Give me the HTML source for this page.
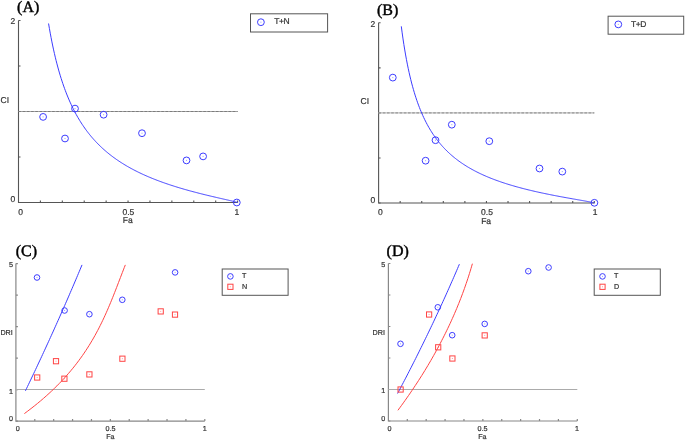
<!DOCTYPE html>
<html><head><meta charset="utf-8"><style>
html,body{margin:0;padding:0;background:#fff;width:685px;height:440px;overflow:hidden;-webkit-font-smoothing:antialiased}
svg{display:block}
#w{width:685px;height:440px}
svg{will-change:transform}
</style></head><body>
<div id="w"><svg width="685" height="440" viewBox="0 0 685 440">
<rect width="685" height="440" fill="#fff"/>
<path d="M18.5,20.5 V202.5 H237.6" fill="none" stroke="#555" stroke-width="1.1"/>
<path d="M18.5,20.50 h2 M18.5,66.00 h2 M18.5,111.50 h2 M18.5,157.00 h2 M18.5,202.50 h2 M40.41,202.5 v-2 M62.32,202.5 v-2 M84.23,202.5 v-2 M106.14,202.5 v-2 M128.05,202.5 v-2 M149.96,202.5 v-2 M171.87,202.5 v-2 M193.78,202.5 v-2 M215.69,202.5 v-2 M237.60,202.5 v-2 " fill="none" stroke="#555" stroke-width="1.1"/>
<line x1="18.5" y1="111.5" x2="237.6" y2="111.5" stroke="#a4a4a4" stroke-width="1.0"/>
<line x1="18.5" y1="111.5" x2="237.6" y2="111.5" stroke="#7c7c7c" stroke-width="1.0" stroke-dasharray="2.6,1.6"/>
<polyline points="48.56,23.51 49.40,28.46 50.24,33.16 51.08,37.64 51.92,41.91 52.76,45.99 53.60,49.88 54.44,53.61 55.28,57.18 56.12,60.60 56.96,63.88 57.80,67.03 58.64,70.06 59.48,72.98 60.32,75.79 61.16,78.49 62.00,81.10 62.84,83.61 63.68,86.05 64.52,88.39 65.36,90.66 66.20,92.86 67.04,94.99 67.88,97.05 68.72,99.05 69.56,100.98 70.40,102.86 71.24,104.68 72.08,106.46 72.92,108.18 73.76,109.85 74.60,111.48 75.44,113.06 76.28,114.60 77.12,116.10 77.96,117.56 78.80,118.98 79.64,120.37 80.48,121.73 81.32,123.05 82.16,124.34 83.00,125.59 83.84,126.82 84.68,128.02 85.51,129.20 86.35,130.34 87.19,131.46 88.03,132.56 88.87,133.63 89.71,134.68 90.55,135.71 91.39,136.71 92.23,137.70 93.07,138.66 93.91,139.61 94.75,140.53 95.59,141.44 96.43,142.33 97.27,143.20 98.11,144.06 98.95,144.90 99.79,145.72 100.63,146.53 101.47,147.33 102.31,148.11 103.15,148.87 103.99,149.63 104.83,150.37 105.67,151.09 106.51,151.81 107.35,152.51 108.19,153.20 109.03,153.88 109.87,154.55 110.71,155.20 111.55,155.85 112.39,156.49 113.23,157.11 114.07,157.73 114.91,158.33 115.75,158.93 116.59,159.52 117.43,160.10 118.27,160.67 119.11,161.23 119.95,161.79 120.79,162.33 121.63,162.87 122.47,163.40 123.31,163.92 124.15,164.44 124.99,164.95 125.83,165.45 126.67,165.94 127.51,166.43 128.35,166.91 129.19,167.39 130.03,167.85 130.87,168.32 131.71,168.77 132.55,169.22 133.39,169.67 134.23,170.11 135.07,170.54 135.91,170.97 136.75,171.39 137.58,171.81 138.42,172.22 139.26,172.63 140.10,173.03 140.94,173.43 141.78,173.83 142.62,174.22 143.46,174.60 144.30,174.98 145.14,175.36 145.98,175.73 146.82,176.09 147.66,176.46 148.50,176.82 149.34,177.17 150.18,177.52 151.02,177.87 151.86,178.22 152.70,178.56 153.54,178.89 154.38,179.23 155.22,179.56 156.06,179.88 156.90,180.21 157.74,180.53 158.58,180.84 159.42,181.16 160.26,181.47 161.10,181.78 161.94,182.08 162.78,182.38 163.62,182.68 164.46,182.98 165.30,183.27 166.14,183.56 166.98,183.85 167.82,184.14 168.66,184.42 169.50,184.70 170.34,184.98 171.18,185.25 172.02,185.52 172.86,185.79 173.70,186.06 174.54,186.33 175.38,186.59 176.22,186.85 177.06,187.11 177.90,187.37 178.74,187.63 179.58,187.88 180.42,188.13 181.26,188.38 182.10,188.63 182.94,188.87 183.78,189.12 184.62,189.36 185.46,189.60 186.30,189.84 187.14,190.07 187.98,190.31 188.82,190.54 189.65,190.77 190.49,191.00 191.33,191.23 192.17,191.45 193.01,191.68 193.85,191.90 194.69,192.12 195.53,192.34 196.37,192.56 197.21,192.78 198.05,193.00 198.89,193.21 199.73,193.43 200.57,193.64 201.41,193.85 202.25,194.06 203.09,194.27 203.93,194.48 204.77,194.68 205.61,194.89 206.45,195.09 207.29,195.30 208.13,195.50 208.97,195.70 209.81,195.90 210.65,196.10 211.49,196.30 212.33,196.50 213.17,196.69 214.01,196.89 214.85,197.09 215.69,197.28 216.25,197.41 216.81,197.54 217.37,197.67 217.93,197.80 218.49,197.93 219.05,198.06 219.61,198.19 220.17,198.31 220.73,198.44 221.30,198.57 221.86,198.70 222.42,198.82 222.98,198.95 223.54,199.08 224.10,199.21 224.66,199.34 225.22,199.46 225.78,199.59 226.34,199.72 226.90,199.85 227.46,199.97 228.02,200.10 228.58,200.23 229.14,200.36 229.70,200.49 230.26,200.62 230.82,200.75 231.38,200.88 231.94,201.01 232.51,201.15 233.07,201.28 233.63,201.42 234.19,201.55 234.75,201.69 235.31,201.84 235.87,201.98 236.43,202.13 236.99,202.29 237.55,202.48 237.60,202.50" fill="none" stroke="#3c3cff" stroke-width="1"/>
<circle cx="43.1" cy="116.9" r="3.4" fill="none" stroke="#3c3cff" stroke-width="1.0"/>
<rect x="42.6" y="116.4" width="1" height="1" fill="#3c3cff" opacity="0.5"/>
<circle cx="65" cy="138.5" r="3.4" fill="none" stroke="#3c3cff" stroke-width="1.0"/>
<rect x="64.5" y="138.0" width="1" height="1" fill="#3c3cff" opacity="0.5"/>
<circle cx="75" cy="108.6" r="3.4" fill="none" stroke="#3c3cff" stroke-width="1.0"/>
<rect x="74.5" y="108.1" width="1" height="1" fill="#3c3cff" opacity="0.5"/>
<circle cx="103.6" cy="114.7" r="3.4" fill="none" stroke="#3c3cff" stroke-width="1.0"/>
<rect x="103.1" y="114.2" width="1" height="1" fill="#3c3cff" opacity="0.5"/>
<circle cx="142" cy="133.2" r="3.4" fill="none" stroke="#3c3cff" stroke-width="1.0"/>
<rect x="141.5" y="132.7" width="1" height="1" fill="#3c3cff" opacity="0.5"/>
<circle cx="186.5" cy="160.4" r="3.4" fill="none" stroke="#3c3cff" stroke-width="1.0"/>
<rect x="186.0" y="159.9" width="1" height="1" fill="#3c3cff" opacity="0.5"/>
<circle cx="203.1" cy="156.4" r="3.4" fill="none" stroke="#3c3cff" stroke-width="1.0"/>
<rect x="202.6" y="155.9" width="1" height="1" fill="#3c3cff" opacity="0.5"/>
<circle cx="236.8" cy="202.5" r="3.4" fill="none" stroke="#3c3cff" stroke-width="1.0"/>
<rect x="236.3" y="202.0" width="1" height="1" fill="#3c3cff" opacity="0.5"/>
<text x="15.3" y="24.4" font-family="Liberation Sans" font-size="8.5" fill="#333" text-anchor="end" font-weight="normal" text-rendering="geometricPrecision" stroke="#333" stroke-width="0.2">2</text>
<text x="15.3" y="202.3" font-family="Liberation Sans" font-size="8.5" fill="#333" text-anchor="end" font-weight="normal" text-rendering="geometricPrecision" stroke="#333" stroke-width="0.2">0</text>
<text x="0.6" y="102.7" font-family="Liberation Sans" font-size="8.5" fill="#333" text-anchor="start" font-weight="normal" text-rendering="geometricPrecision" stroke="#333" stroke-width="0.2">CI</text>
<text x="20.7" y="214.5" font-family="Liberation Sans" font-size="8.5" fill="#333" text-anchor="middle" font-weight="normal" text-rendering="geometricPrecision" stroke="#333" stroke-width="0.2">0</text>
<text x="128.4" y="214.5" font-family="Liberation Sans" font-size="8.5" fill="#333" text-anchor="middle" font-weight="normal" text-rendering="geometricPrecision" stroke="#333" stroke-width="0.2">0.5</text>
<text x="236.9" y="214.5" font-family="Liberation Sans" font-size="8.5" fill="#333" text-anchor="middle" font-weight="normal" text-rendering="geometricPrecision" stroke="#333" stroke-width="0.2">1</text>
<text x="127.8" y="223.0" font-family="Liberation Sans" font-size="8.5" fill="#333" text-anchor="middle" font-weight="normal" text-rendering="geometricPrecision" stroke="#333" stroke-width="0.2">Fa</text>
<text x="28.2" y="11.5" font-family="Liberation Serif" font-size="16" fill="#000" text-anchor="middle" font-weight="normal" text-rendering="geometricPrecision" stroke="#000" stroke-width="0.45">(A)</text>
<rect x="250.5" y="13.8" width="77.1" height="18.2" fill="none" stroke="#555" stroke-width="1"/>
<circle cx="260.9" cy="22.2" r="3.4" fill="none" stroke="#3c3cff" stroke-width="1.0"/>
<rect x="260.4" y="21.7" width="1" height="1" fill="#3c3cff" opacity="0.5"/>
<text x="274.3" y="24.3" font-family="Liberation Sans" font-size="8.5" fill="#333" text-anchor="start" font-weight="normal" text-rendering="geometricPrecision" stroke="#333" stroke-width="0.2" letter-spacing="-0.45">T+N</text>
<path d="M378.6,22.8 V203.0 H594.3" fill="none" stroke="#555" stroke-width="1.1"/>
<path d="M378.6,22.80 h2 M378.6,67.85 h2 M378.6,112.90 h2 M378.6,157.95 h2 M378.6,203.00 h2 M400.17,203.0 v-2 M421.74,203.0 v-2 M443.31,203.0 v-2 M464.88,203.0 v-2 M486.45,203.0 v-2 M508.02,203.0 v-2 M529.59,203.0 v-2 M551.16,203.0 v-2 M572.73,203.0 v-2 M594.30,203.0 v-2 " fill="none" stroke="#555" stroke-width="1.1"/>
<line x1="378.6" y1="112.9" x2="594.3" y2="112.9" stroke="#c0c0c0" stroke-width="1.1"/>
<line x1="378.6" y1="112.9" x2="594.3" y2="112.9" stroke="#999999" stroke-width="1.1" stroke-dasharray="2.6,1.6"/>
<polyline points="401.31,26.33 402.17,32.86 403.03,38.95 403.89,44.64 404.75,49.97 405.61,54.98 406.47,59.69 407.34,64.14 408.20,68.33 409.06,72.30 409.92,76.06 410.78,79.64 411.64,83.03 412.50,86.26 413.37,89.34 414.23,92.27 415.09,95.08 415.95,97.76 416.81,100.33 417.67,102.79 418.53,105.15 419.40,107.41 420.26,109.59 421.12,111.68 421.98,113.69 422.84,115.63 423.70,117.51 424.56,119.31 425.43,121.05 426.29,122.73 427.15,124.36 428.01,125.93 428.87,127.46 429.73,128.93 430.59,130.36 431.46,131.74 432.32,133.08 433.18,134.39 434.04,135.65 434.90,136.88 435.76,138.07 436.62,139.24 437.49,140.36 438.35,141.46 439.21,142.53 440.07,143.57 440.93,144.59 441.79,145.58 442.65,146.54 443.52,147.48 444.38,148.40 445.24,149.30 446.10,150.17 446.96,151.02 447.82,151.86 448.68,152.67 449.55,153.47 450.41,154.25 451.27,155.01 452.13,155.75 452.99,156.48 453.85,157.20 454.71,157.90 455.58,158.58 456.44,159.25 457.30,159.91 458.16,160.55 459.02,161.19 459.88,161.80 460.74,162.41 461.61,163.01 462.47,163.59 463.33,164.17 464.19,164.73 465.05,165.28 465.91,165.82 466.77,166.36 467.64,166.88 468.50,167.40 469.36,167.90 470.22,168.40 471.08,168.89 471.94,169.37 472.80,169.84 473.67,170.31 474.53,170.76 475.39,171.21 476.25,171.66 477.11,172.09 477.97,172.52 478.83,172.94 479.70,173.36 480.56,173.77 481.42,174.17 482.28,174.57 483.14,174.96 484.00,175.35 484.86,175.73 485.73,176.10 486.59,176.47 487.45,176.84 488.31,177.20 489.17,177.55 490.03,177.90 490.89,178.24 491.76,178.58 492.62,178.92 493.48,179.25 494.34,179.58 495.20,179.90 496.06,180.22 496.92,180.53 497.79,180.84 498.65,181.15 499.51,181.45 500.37,181.75 501.23,182.05 502.09,182.34 502.95,182.63 503.82,182.91 504.68,183.19 505.54,183.47 506.40,183.75 507.26,184.02 508.12,184.29 508.98,184.56 509.85,184.82 510.71,185.08 511.57,185.34 512.43,185.59 513.29,185.84 514.15,186.09 515.01,186.34 515.88,186.58 516.74,186.82 517.60,187.06 518.46,187.30 519.32,187.53 520.18,187.76 521.04,187.99 521.91,188.22 522.77,188.44 523.63,188.67 524.49,188.89 525.35,189.10 526.21,189.32 527.07,189.54 527.94,189.75 528.80,189.96 529.66,190.17 530.52,190.37 531.38,190.58 532.24,190.78 533.10,190.98 533.97,191.18 534.83,191.38 535.69,191.58 536.55,191.77 537.41,191.96 538.27,192.16 539.13,192.35 540.00,192.53 540.86,192.72 541.72,192.91 542.58,193.09 543.44,193.27 544.30,193.45 545.16,193.63 546.03,193.81 546.89,193.99 547.75,194.17 548.61,194.34 549.47,194.51 550.33,194.69 551.19,194.86 552.06,195.03 552.92,195.20 553.78,195.37 554.64,195.53 555.50,195.70 556.36,195.86 557.22,196.03 558.09,196.19 558.95,196.35 559.81,196.52 560.67,196.68 561.53,196.84 562.39,196.99 563.25,197.15 564.12,197.31 564.98,197.47 565.84,197.62 566.70,197.78 567.56,197.93 568.42,198.09 569.28,198.24 570.15,198.39 571.01,198.55 571.87,198.70 572.73,198.85 573.28,198.95 573.83,199.05 574.39,199.14 574.94,199.24 575.49,199.34 576.04,199.43 576.59,199.53 577.14,199.63 577.70,199.72 578.25,199.82 578.80,199.92 579.35,200.01 579.90,200.11 580.46,200.21 581.01,200.31 581.56,200.40 582.11,200.50 582.66,200.60 583.21,200.70 583.77,200.79 584.32,200.89 584.87,200.99 585.42,201.09 585.97,201.19 586.52,201.29 587.08,201.39 587.63,201.50 588.18,201.60 588.73,201.71 589.28,201.81 589.84,201.92 590.39,202.03 590.94,202.14 591.49,202.26 592.04,202.38 592.59,202.50 593.15,202.63 593.70,202.78 594.25,202.97 594.30,203.00" fill="none" stroke="#3c3cff" stroke-width="1"/>
<circle cx="392.8" cy="77.6" r="3.4" fill="none" stroke="#3c3cff" stroke-width="1.0"/>
<rect x="392.3" y="77.1" width="1" height="1" fill="#3c3cff" opacity="0.5"/>
<circle cx="425.6" cy="160.7" r="3.4" fill="none" stroke="#3c3cff" stroke-width="1.0"/>
<rect x="425.1" y="160.2" width="1" height="1" fill="#3c3cff" opacity="0.5"/>
<circle cx="435.5" cy="140.2" r="3.4" fill="none" stroke="#3c3cff" stroke-width="1.0"/>
<rect x="435.0" y="139.7" width="1" height="1" fill="#3c3cff" opacity="0.5"/>
<circle cx="451.8" cy="124.7" r="3.4" fill="none" stroke="#3c3cff" stroke-width="1.0"/>
<rect x="451.3" y="124.2" width="1" height="1" fill="#3c3cff" opacity="0.5"/>
<circle cx="489.3" cy="141.2" r="3.4" fill="none" stroke="#3c3cff" stroke-width="1.0"/>
<rect x="488.8" y="140.7" width="1" height="1" fill="#3c3cff" opacity="0.5"/>
<circle cx="539.5" cy="168.5" r="3.4" fill="none" stroke="#3c3cff" stroke-width="1.0"/>
<rect x="539.0" y="168.0" width="1" height="1" fill="#3c3cff" opacity="0.5"/>
<circle cx="562.3" cy="171.6" r="3.4" fill="none" stroke="#3c3cff" stroke-width="1.0"/>
<rect x="561.8" y="171.1" width="1" height="1" fill="#3c3cff" opacity="0.5"/>
<circle cx="594.4" cy="202.8" r="3.4" fill="none" stroke="#3c3cff" stroke-width="1.0"/>
<rect x="593.9" y="202.3" width="1" height="1" fill="#3c3cff" opacity="0.5"/>
<text x="375.3" y="27.0" font-family="Liberation Sans" font-size="8.5" fill="#333" text-anchor="end" font-weight="normal" text-rendering="geometricPrecision" stroke="#333" stroke-width="0.2">2</text>
<text x="375.3" y="203.0" font-family="Liberation Sans" font-size="8.5" fill="#333" text-anchor="end" font-weight="normal" text-rendering="geometricPrecision" stroke="#333" stroke-width="0.2">0</text>
<text x="360.5" y="103.9" font-family="Liberation Sans" font-size="8.5" fill="#333" text-anchor="start" font-weight="normal" text-rendering="geometricPrecision" stroke="#333" stroke-width="0.2">CI</text>
<text x="380.4" y="214.8" font-family="Liberation Sans" font-size="8.5" fill="#333" text-anchor="middle" font-weight="normal" text-rendering="geometricPrecision" stroke="#333" stroke-width="0.2">0</text>
<text x="487.0" y="214.8" font-family="Liberation Sans" font-size="8.5" fill="#333" text-anchor="middle" font-weight="normal" text-rendering="geometricPrecision" stroke="#333" stroke-width="0.2">0.5</text>
<text x="595.0" y="214.8" font-family="Liberation Sans" font-size="8.5" fill="#333" text-anchor="middle" font-weight="normal" text-rendering="geometricPrecision" stroke="#333" stroke-width="0.2">1</text>
<text x="486.1" y="223.7" font-family="Liberation Sans" font-size="8.5" fill="#333" text-anchor="middle" font-weight="normal" text-rendering="geometricPrecision" stroke="#333" stroke-width="0.2">Fa</text>
<text x="387.6" y="14.5" font-family="Liberation Serif" font-size="16" fill="#000" text-anchor="middle" font-weight="normal" text-rendering="geometricPrecision" stroke="#000" stroke-width="0.45">(B)</text>
<rect x="608.1" y="16.2" width="75.6" height="18.0" fill="none" stroke="#555" stroke-width="1"/>
<circle cx="618.3" cy="24.4" r="3.4" fill="none" stroke="#3c3cff" stroke-width="1.0"/>
<rect x="617.8" y="23.9" width="1" height="1" fill="#3c3cff" opacity="0.5"/>
<text x="631.1" y="27.0" font-family="Liberation Sans" font-size="8.5" fill="#333" text-anchor="start" font-weight="normal" text-rendering="geometricPrecision" stroke="#333" stroke-width="0.2" letter-spacing="-0.45">T+D</text>
<path d="M15.9,263.6 V421.1 H204.8" fill="none" stroke="#888" stroke-width="1.2"/>
<path d="M15.9,263.60 h2 M15.9,295.10 h2 M15.9,326.60 h2 M15.9,358.10 h2 M15.9,389.60 h2 M15.9,421.10 h2 M34.79,421.1 v-2 M53.68,421.1 v-2 M72.57,421.1 v-2 M91.46,421.1 v-2 M110.35,421.1 v-2 M129.24,421.1 v-2 M148.13,421.1 v-2 M167.02,421.1 v-2 M185.91,421.1 v-2 M204.80,421.1 v-2 " fill="none" stroke="#888" stroke-width="1.2"/>
<line x1="15.9" y1="389.5" x2="204.8" y2="389.5" stroke="#ababab" stroke-width="1.0" stroke-dasharray="none"/>
<polyline points="25.44,390.80 26.47,388.67 27.49,386.53 28.52,384.40 29.54,382.26 30.56,380.13 31.57,378.00 32.59,375.86 33.60,373.73 34.61,371.59 35.62,369.46 36.62,367.33 37.62,365.19 38.62,363.06 39.62,360.93 40.61,358.79 41.61,356.66 42.60,354.52 43.58,352.39 44.57,350.26 45.55,348.12 46.53,345.99 47.51,343.85 48.49,341.72 49.46,339.59 50.43,337.45 51.40,335.32 52.37,333.18 53.33,331.05 54.29,328.92 55.25,326.78 56.21,324.65 57.16,322.52 58.12,320.38 59.07,318.25 60.01,316.11 60.96,313.98 61.90,311.85 62.84,309.71 63.78,307.58 64.71,305.44 65.64,303.31 66.58,301.18 67.50,299.04 68.43,296.91 69.35,294.77 70.27,292.64 71.19,290.51 72.11,288.37 73.02,286.24 73.93,284.11 74.84,281.97 75.75,279.84 76.65,277.70 77.55,275.57 78.45,273.44 79.35,271.30 80.24,269.17 81.14,267.03 82.03,264.90" fill="none" stroke="#3c3cff" stroke-width="1"/>
<polyline points="24.38,413.60 27.76,411.08 31.06,408.56 34.26,406.04 37.38,403.52 40.41,401.00 43.36,398.48 46.23,395.96 49.01,393.44 51.72,390.92 54.35,388.40 56.91,385.88 59.39,383.36 61.81,380.84 64.15,378.32 66.42,375.79 68.63,373.27 70.78,370.75 72.86,368.23 74.88,365.71 76.84,363.19 78.74,360.67 80.58,358.15 82.38,355.63 84.12,353.11 85.81,350.59 87.45,348.07 89.04,345.55 90.59,343.03 92.09,340.51 93.55,337.99 94.97,335.47 96.35,332.95 97.70,330.43 99.01,327.91 100.28,325.39 101.53,322.87 102.74,320.35 103.93,317.83 105.09,315.31 106.22,312.79 107.33,310.27 108.42,307.75 109.49,305.23 110.54,302.71 111.58,300.18 112.60,297.66 113.61,295.14 114.60,292.62 115.59,290.10 116.57,287.58 117.54,285.06 118.51,282.54 119.48,280.02 120.45,277.50 121.42,274.98 122.39,272.46 123.36,269.94 124.34,267.42 125.33,264.90" fill="none" stroke="#ff4444" stroke-width="1"/>
<circle cx="37" cy="277.5" r="2.8" fill="none" stroke="#3c3cff" stroke-width="1.0"/>
<rect x="36.5" y="277.0" width="1" height="1" fill="#3c3cff" opacity="0.5"/>
<circle cx="64.6" cy="310.5" r="2.8" fill="none" stroke="#3c3cff" stroke-width="1.0"/>
<rect x="64.1" y="310.0" width="1" height="1" fill="#3c3cff" opacity="0.5"/>
<circle cx="89.4" cy="314.2" r="2.8" fill="none" stroke="#3c3cff" stroke-width="1.0"/>
<rect x="88.9" y="313.7" width="1" height="1" fill="#3c3cff" opacity="0.5"/>
<circle cx="122.3" cy="299.8" r="2.8" fill="none" stroke="#3c3cff" stroke-width="1.0"/>
<rect x="121.8" y="299.3" width="1" height="1" fill="#3c3cff" opacity="0.5"/>
<circle cx="175.1" cy="272.4" r="2.8" fill="none" stroke="#3c3cff" stroke-width="1.0"/>
<rect x="174.6" y="271.9" width="1" height="1" fill="#3c3cff" opacity="0.5"/>
<rect x="34.6" y="374.9" width="5.2" height="5.2" fill="none" stroke="#ff4444" stroke-width="1.0"/>
<rect x="36.7" y="377.0" width="1" height="1" fill="#ff4444" opacity="0.5"/>
<rect x="53.4" y="358.59999999999997" width="5.2" height="5.2" fill="none" stroke="#ff4444" stroke-width="1.0"/>
<rect x="55.5" y="360.7" width="1" height="1" fill="#ff4444" opacity="0.5"/>
<rect x="61.800000000000004" y="376.09999999999997" width="5.2" height="5.2" fill="none" stroke="#ff4444" stroke-width="1.0"/>
<rect x="63.900000000000006" y="378.2" width="1" height="1" fill="#ff4444" opacity="0.5"/>
<rect x="86.80000000000001" y="371.79999999999995" width="5.2" height="5.2" fill="none" stroke="#ff4444" stroke-width="1.0"/>
<rect x="88.9" y="373.9" width="1" height="1" fill="#ff4444" opacity="0.5"/>
<rect x="119.80000000000001" y="356.09999999999997" width="5.2" height="5.2" fill="none" stroke="#ff4444" stroke-width="1.0"/>
<rect x="121.9" y="358.2" width="1" height="1" fill="#ff4444" opacity="0.5"/>
<rect x="158.1" y="308.79999999999995" width="5.2" height="5.2" fill="none" stroke="#ff4444" stroke-width="1.0"/>
<rect x="160.2" y="310.9" width="1" height="1" fill="#ff4444" opacity="0.5"/>
<rect x="172.4" y="312.0" width="5.2" height="5.2" fill="none" stroke="#ff4444" stroke-width="1.0"/>
<rect x="174.5" y="314.1" width="1" height="1" fill="#ff4444" opacity="0.5"/>
<text x="13.0" y="267.0" font-family="Liberation Sans" font-size="7.2" fill="#333" text-anchor="end" font-weight="normal" text-rendering="geometricPrecision" stroke="#333" stroke-width="0.2">5</text>
<text x="13.0" y="393.7" font-family="Liberation Sans" font-size="7.2" fill="#333" text-anchor="end" font-weight="normal" text-rendering="geometricPrecision" stroke="#333" stroke-width="0.2">1</text>
<text x="13.0" y="421.0" font-family="Liberation Sans" font-size="7.2" fill="#333" text-anchor="end" font-weight="normal" text-rendering="geometricPrecision" stroke="#333" stroke-width="0.2">0</text>
<text x="0.4" y="334.9" font-family="Liberation Sans" font-size="7.2" fill="#333" text-anchor="start" font-weight="normal" text-rendering="geometricPrecision" stroke="#333" stroke-width="0.2">DRI</text>
<text x="17.7" y="431.3" font-family="Liberation Sans" font-size="7.2" fill="#333" text-anchor="middle" font-weight="normal" text-rendering="geometricPrecision" stroke="#333" stroke-width="0.2">0</text>
<text x="110.6" y="431.3" font-family="Liberation Sans" font-size="7.2" fill="#333" text-anchor="middle" font-weight="normal" text-rendering="geometricPrecision" stroke="#333" stroke-width="0.2">0.5</text>
<text x="204.7" y="431.3" font-family="Liberation Sans" font-size="7.2" fill="#333" text-anchor="middle" font-weight="normal" text-rendering="geometricPrecision" stroke="#333" stroke-width="0.2">1</text>
<text x="110.4" y="438.9" font-family="Liberation Sans" font-size="7.2" fill="#333" text-anchor="middle" font-weight="normal" text-rendering="geometricPrecision" stroke="#333" stroke-width="0.2">Fa</text>
<text x="26.4" y="255.8" font-family="Liberation Serif" font-size="16" fill="#000" text-anchor="middle" font-weight="normal" text-rendering="geometricPrecision" stroke="#000" stroke-width="0.45">(C)</text>
<rect x="222.2" y="269" width="65.9" height="26.3" fill="none" stroke="#555" stroke-width="1"/>
<circle cx="230.4" cy="276.4" r="2.8" fill="none" stroke="#3c3cff" stroke-width="1.0"/>
<rect x="229.9" y="275.9" width="1" height="1" fill="#3c3cff" opacity="0.5"/>
<rect x="227.8" y="284.2" width="5.2" height="5.2" fill="none" stroke="#ff4444" stroke-width="1.0"/>
<rect x="229.9" y="286.3" width="1" height="1" fill="#ff4444" opacity="0.5"/>
<text x="241.9" y="278.4" font-family="Liberation Sans" font-size="7.2" fill="#333" text-anchor="start" font-weight="normal" text-rendering="geometricPrecision" stroke="#333" stroke-width="0.2">T</text>
<text x="241.9" y="288.6" font-family="Liberation Sans" font-size="7.2" fill="#333" text-anchor="start" font-weight="normal" text-rendering="geometricPrecision" stroke="#333" stroke-width="0.2">N</text>
<path d="M388.4,263.5 V421.0 H577.3" fill="none" stroke="#888" stroke-width="1.2"/>
<path d="M388.4,263.50 h2 M388.4,295.00 h2 M388.4,326.50 h2 M388.4,358.00 h2 M388.4,389.50 h2 M388.4,421.00 h2 M407.29,421.0 v-2 M426.18,421.0 v-2 M445.07,421.0 v-2 M463.96,421.0 v-2 M482.85,421.0 v-2 M501.74,421.0 v-2 M520.63,421.0 v-2 M539.52,421.0 v-2 M558.41,421.0 v-2 M577.30,421.0 v-2 " fill="none" stroke="#888" stroke-width="1.2"/>
<line x1="388.4" y1="389.5" x2="577.3" y2="389.5" stroke="#ababab" stroke-width="1.0" stroke-dasharray="none"/>
<polyline points="397.57,393.50 398.73,391.31 399.89,389.12 401.04,386.93 402.19,384.73 403.34,382.54 404.48,380.35 405.62,378.16 406.75,375.97 407.88,373.78 409.01,371.58 410.13,369.39 411.25,367.20 412.37,365.01 413.48,362.82 414.58,360.63 415.69,358.44 416.78,356.24 417.88,354.05 418.97,351.86 420.06,349.67 421.14,347.48 422.22,345.29 423.30,343.09 424.37,340.90 425.43,338.71 426.50,336.52 427.56,334.33 428.61,332.14 429.66,329.95 430.71,327.75 431.76,325.56 432.80,323.37 433.83,321.18 434.86,318.99 435.89,316.80 436.92,314.61 437.94,312.41 438.95,310.22 439.97,308.03 440.97,305.84 441.98,303.65 442.98,301.46 443.98,299.26 444.97,297.07 445.96,294.88 446.94,292.69 447.92,290.50 448.90,288.31 449.87,286.12 450.84,283.92 451.81,281.73 452.77,279.54 453.73,277.35 454.68,275.16 455.63,272.97 456.57,270.77 457.52,268.58 458.45,266.39 459.39,264.20" fill="none" stroke="#3c3cff" stroke-width="1"/>
<polyline points="397.92,410.30 399.76,407.82 401.57,405.33 403.37,402.85 405.14,400.36 406.89,397.88 408.63,395.39 410.34,392.91 412.03,390.42 413.70,387.94 415.35,385.45 416.98,382.97 418.59,380.48 420.18,378.00 421.75,375.51 423.30,373.03 424.83,370.54 426.34,368.06 427.83,365.57 429.30,363.09 430.75,360.61 432.18,358.12 433.59,355.64 434.98,353.15 436.35,350.67 437.71,348.18 439.04,345.70 440.35,343.21 441.64,340.73 442.92,338.24 444.17,335.76 445.41,333.27 446.62,330.79 447.82,328.30 449.00,325.82 450.16,323.33 451.30,320.85 452.42,318.36 453.52,315.88 454.61,313.39 455.67,310.91 456.72,308.43 457.74,305.94 458.75,303.46 459.74,300.97 460.71,298.49 461.67,296.00 462.60,293.52 463.52,291.03 464.41,288.55 465.29,286.06 466.15,283.58 467.00,281.09 467.82,278.61 468.63,276.12 469.42,273.64 470.19,271.15 470.94,268.67 471.68,266.18 472.39,263.70" fill="none" stroke="#ff4444" stroke-width="1"/>
<circle cx="400.5" cy="343.8" r="2.8" fill="none" stroke="#3c3cff" stroke-width="1.0"/>
<rect x="400.0" y="343.3" width="1" height="1" fill="#3c3cff" opacity="0.5"/>
<circle cx="437.8" cy="307.3" r="2.8" fill="none" stroke="#3c3cff" stroke-width="1.0"/>
<rect x="437.3" y="306.8" width="1" height="1" fill="#3c3cff" opacity="0.5"/>
<circle cx="452.2" cy="335.2" r="2.8" fill="none" stroke="#3c3cff" stroke-width="1.0"/>
<rect x="451.7" y="334.7" width="1" height="1" fill="#3c3cff" opacity="0.5"/>
<circle cx="484.7" cy="323.9" r="2.8" fill="none" stroke="#3c3cff" stroke-width="1.0"/>
<rect x="484.2" y="323.4" width="1" height="1" fill="#3c3cff" opacity="0.5"/>
<circle cx="528.3" cy="271.2" r="2.8" fill="none" stroke="#3c3cff" stroke-width="1.0"/>
<rect x="527.8" y="270.7" width="1" height="1" fill="#3c3cff" opacity="0.5"/>
<circle cx="548.6" cy="267.5" r="2.8" fill="none" stroke="#3c3cff" stroke-width="1.0"/>
<rect x="548.1" y="267.0" width="1" height="1" fill="#3c3cff" opacity="0.5"/>
<rect x="398.0" y="386.9" width="5.2" height="5.2" fill="none" stroke="#ff4444" stroke-width="1.0"/>
<rect x="400.1" y="389.0" width="1" height="1" fill="#ff4444" opacity="0.5"/>
<rect x="426.5" y="311.9" width="5.2" height="5.2" fill="none" stroke="#ff4444" stroke-width="1.0"/>
<rect x="428.6" y="314.0" width="1" height="1" fill="#ff4444" opacity="0.5"/>
<rect x="435.59999999999997" y="344.7" width="5.2" height="5.2" fill="none" stroke="#ff4444" stroke-width="1.0"/>
<rect x="437.7" y="346.8" width="1" height="1" fill="#ff4444" opacity="0.5"/>
<rect x="449.79999999999995" y="355.9" width="5.2" height="5.2" fill="none" stroke="#ff4444" stroke-width="1.0"/>
<rect x="451.9" y="358.0" width="1" height="1" fill="#ff4444" opacity="0.5"/>
<rect x="482.09999999999997" y="332.79999999999995" width="5.2" height="5.2" fill="none" stroke="#ff4444" stroke-width="1.0"/>
<rect x="484.2" y="334.9" width="1" height="1" fill="#ff4444" opacity="0.5"/>
<text x="385.3" y="266.8" font-family="Liberation Sans" font-size="7.2" fill="#333" text-anchor="end" font-weight="normal" text-rendering="geometricPrecision" stroke="#333" stroke-width="0.2">5</text>
<text x="385.3" y="393.3" font-family="Liberation Sans" font-size="7.2" fill="#333" text-anchor="end" font-weight="normal" text-rendering="geometricPrecision" stroke="#333" stroke-width="0.2">1</text>
<text x="385.3" y="420.6" font-family="Liberation Sans" font-size="7.2" fill="#333" text-anchor="end" font-weight="normal" text-rendering="geometricPrecision" stroke="#333" stroke-width="0.2">0</text>
<text x="372.5" y="334.9" font-family="Liberation Sans" font-size="7.2" fill="#333" text-anchor="start" font-weight="normal" text-rendering="geometricPrecision" stroke="#333" stroke-width="0.2">DRI</text>
<text x="389.6" y="431.3" font-family="Liberation Sans" font-size="7.2" fill="#333" text-anchor="middle" font-weight="normal" text-rendering="geometricPrecision" stroke="#333" stroke-width="0.2">0</text>
<text x="482.4" y="431.3" font-family="Liberation Sans" font-size="7.2" fill="#333" text-anchor="middle" font-weight="normal" text-rendering="geometricPrecision" stroke="#333" stroke-width="0.2">0.5</text>
<text x="577.1" y="431.3" font-family="Liberation Sans" font-size="7.2" fill="#333" text-anchor="middle" font-weight="normal" text-rendering="geometricPrecision" stroke="#333" stroke-width="0.2">1</text>
<text x="482.4" y="438.9" font-family="Liberation Sans" font-size="7.2" fill="#333" text-anchor="middle" font-weight="normal" text-rendering="geometricPrecision" stroke="#333" stroke-width="0.2">Fa</text>
<text x="397.7" y="256.0" font-family="Liberation Serif" font-size="16" fill="#000" text-anchor="middle" font-weight="normal" text-rendering="geometricPrecision" stroke="#000" stroke-width="0.45">(D)</text>
<rect x="594.2" y="269" width="66.1" height="26.3" fill="none" stroke="#555" stroke-width="1"/>
<circle cx="602.5" cy="276.4" r="2.8" fill="none" stroke="#3c3cff" stroke-width="1.0"/>
<rect x="602.0" y="275.9" width="1" height="1" fill="#3c3cff" opacity="0.5"/>
<rect x="599.9" y="284.2" width="5.2" height="5.2" fill="none" stroke="#ff4444" stroke-width="1.0"/>
<rect x="602.0" y="286.3" width="1" height="1" fill="#ff4444" opacity="0.5"/>
<text x="613.9" y="278.4" font-family="Liberation Sans" font-size="7.2" fill="#333" text-anchor="start" font-weight="normal" text-rendering="geometricPrecision" stroke="#333" stroke-width="0.2">T</text>
<text x="613.9" y="288.6" font-family="Liberation Sans" font-size="7.2" fill="#333" text-anchor="start" font-weight="normal" text-rendering="geometricPrecision" stroke="#333" stroke-width="0.2">D</text>
</svg></div>
</body></html>
